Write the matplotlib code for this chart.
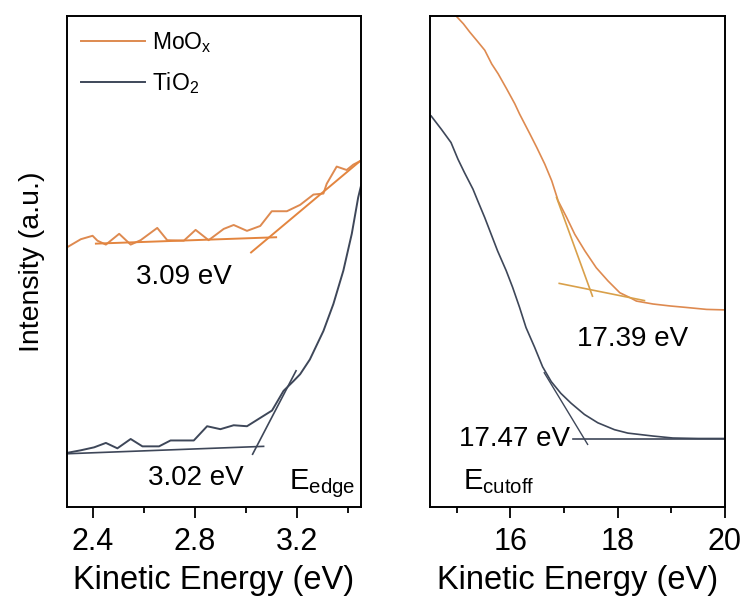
import matplotlib
matplotlib.use("Agg")
from matplotlib import pyplot as plt
from matplotlib.ticker import MultipleLocator

plt.rcParams["font.family"] = ["Liberation Sans", "DejaVu Sans"]
plt.rcParams["mathtext.default"] = "regular"

ORANGE = "#de8a50"
ORANGE_FIT = "#e3853f"
ORANGE_STEEP = "#d9a04a"
SLATE = "#3e4759"

# --- valence band edge region (left panel) ---
edge_moox_x = [2.305, 2.354, 2.400, 2.419, 2.452, 2.504, 2.549, 2.588, 2.653, 2.692,
               2.757, 2.803, 2.854, 2.913, 2.952, 3.004, 3.056, 3.101, 3.160, 3.212,
               3.264, 3.303, 3.316, 3.355, 3.394, 3.420, 3.446]
edge_moox_y = [53.1, 54.6, 55.3, 54.3, 53.5, 55.7, 53.5, 54.4, 56.9, 54.4,
               54.3, 56.5, 54.4, 56.7, 57.5, 56.3, 57.3, 60.3, 60.3, 61.6,
               63.7, 63.9, 65.9, 69.4, 68.7, 69.8, 70.5]

edge_tio2_x = [2.303, 2.354, 2.406, 2.452, 2.497, 2.549, 2.595, 2.660, 2.705, 2.796,
               2.848, 2.900, 2.952, 3.004, 3.056, 3.102, 3.147, 3.186, 3.212, 3.250,
               3.303, 3.342, 3.381, 3.414, 3.439, 3.452]
edge_tio2_y = [11.1, 11.6, 12.2, 13.1, 12.0, 13.9, 12.4, 12.4, 13.6, 13.6,
               16.5, 15.9, 16.7, 16.5, 18.2, 19.7, 23.7, 25.7, 27.1, 30.1,
               35.9, 41.4, 48.2, 55.7, 63.1, 65.9]

# linear fits: (x0, x1), (y0, y1)
edge_moox_base = ([2.413, 3.118], [53.7, 55.0])
edge_moox_slope = ([3.020, 3.446], [51.9, 70.5])
edge_tio2_base = ([2.303, 3.069], [10.9, 12.4])
edge_tio2_slope = ([3.026, 3.196], [10.8, 27.8])

# --- secondary electron cutoff region (right panel) ---
cut_moox_x = [14.80, 15.00, 15.12, 15.24, 15.37, 15.52, 15.65, 15.77, 15.93, 16.08,
              16.17, 16.36, 16.49, 16.64, 16.77, 16.89, 17.05, 17.20, 17.39, 17.60,
              17.82, 18.04, 18.23, 18.35, 18.66, 18.98, 19.28, 19.66, 20.0]
cut_moox_y = [103.0, 99.9, 98.5, 96.8, 95.1, 93.1, 90.3, 88.3, 85.2, 82.2,
              80.1, 76.1, 73.3, 69.9, 66.5, 62.4, 59.0, 55.6, 52.2, 48.8,
              46.1, 43.7, 42.7, 42.0, 41.4, 41.0, 40.7, 40.3, 40.2]

cut_tio2_x = [14.52, 14.71, 14.89, 15.02, 15.14, 15.30, 15.39, 15.52, 15.64, 15.76,
              15.92, 16.04, 16.17, 16.29, 16.45, 16.60, 16.76, 16.94, 17.13, 17.38,
              17.63, 17.94, 18.19, 18.66, 19.03, 19.50, 20.0]
cut_tio2_y = [79.7, 77.0, 74.3, 70.9, 68.2, 64.8, 62.4, 59.0, 55.6, 52.2,
              48.2, 44.8, 40.7, 36.6, 32.6, 28.6, 25.6, 23.2, 21.2, 18.9,
              17.2, 15.8, 15.1, 14.5, 14.1, 14.0, 14.0]

cut_moox_base = ([16.91, 18.50], [45.6, 42.1])
cut_moox_slope = ([16.86, 17.53], [63.1, 43.0])
cut_tio2_base = ([17.16, 20.0], [14.0, 14.0])
cut_tio2_slope = ([16.63, 17.44], [27.4, 12.8])

fig = plt.figure(figsize=(7.48, 6.06), dpi=100)
ax1 = fig.add_axes([0.0896, 0.163, 0.393, 0.810])
ax2 = fig.add_axes([0.575, 0.163, 0.394, 0.810])

ax1.plot(edge_moox_x, edge_moox_y, color=ORANGE, lw=1.4, label="MoO$_x$")
ax1.plot(edge_tio2_x, edge_tio2_y, color=SLATE, lw=1.4, label="TiO$_2$")
ax1.plot(*edge_moox_base, color=ORANGE_FIT, lw=1.4)
ax1.plot(*edge_moox_slope, color=ORANGE_FIT, lw=1.4)
ax1.plot(*edge_tio2_base, color=SLATE, lw=1.2)
ax1.plot(*edge_tio2_slope, color=SLATE, lw=1.2)

ax2.plot(cut_moox_x, cut_moox_y, color=ORANGE, lw=1.2)
ax2.plot(cut_tio2_x, cut_tio2_y, color=SLATE, lw=1.2)
ax2.plot(*cut_moox_base, color=ORANGE_STEEP, lw=1.2)
ax2.plot(*cut_moox_slope, color=ORANGE_STEEP, lw=1.2)
ax2.plot(*cut_tio2_base, color=SLATE, lw=1.2)
ax2.plot(*cut_tio2_slope, color=SLATE, lw=1.0)

ax1.set_xlim(2.3, 3.45)
ax2.set_xlim(14.5, 20)
for ax in (ax1, ax2):
    ax.set_ylim(0, 100)
    ax.set_yticks([])
    ax.set_xlabel("Kinetic Energy (eV)", fontsize=23.5, labelpad=6)
    ax.tick_params(axis="x", which="major", direction="out", length=8, width=1.3,
                   labelsize=22, pad=6)
    ax.tick_params(axis="x", which="minor", direction="out", length=4, width=1.3)
    for sp in ax.spines.values():
        sp.set_linewidth(1.4)

ax1.xaxis.set_major_locator(MultipleLocator(0.4))
ax1.xaxis.set_minor_locator(MultipleLocator(0.2))
ax2.xaxis.set_major_locator(MultipleLocator(2))
ax2.xaxis.set_minor_locator(MultipleLocator(1))

ax1.set_ylabel("Intensity (a.u.)", fontsize=20.5, labelpad=16)

ax1.legend(loc="upper left", frameon=False, fontsize=16.5, handlelength=2.8,
           borderaxespad=0.2, labelspacing=0.65, handletextpad=0.3)

ax1.text(2.756, 46.9, "3.09 eV", fontsize=20, ha="center", va="center")
ax1.text(2.803, 5.9, "3.02 eV", fontsize=20, ha="center", va="center")
ax1.text(3.427, 3.7, "E$_{edge}$", fontsize=21, ha="right", va="baseline")

ax2.text(18.28, 34.3, "17.39 eV", fontsize=20, ha="center", va="center")
ax2.text(17.12, 14.0, "17.47 eV", fontsize=20, ha="right", va="center")
ax2.text(15.11, 3.7, "E$_{cutoff}$", fontsize=21, ha="left", va="baseline")

fig.savefig("out.png", dpi=100)
